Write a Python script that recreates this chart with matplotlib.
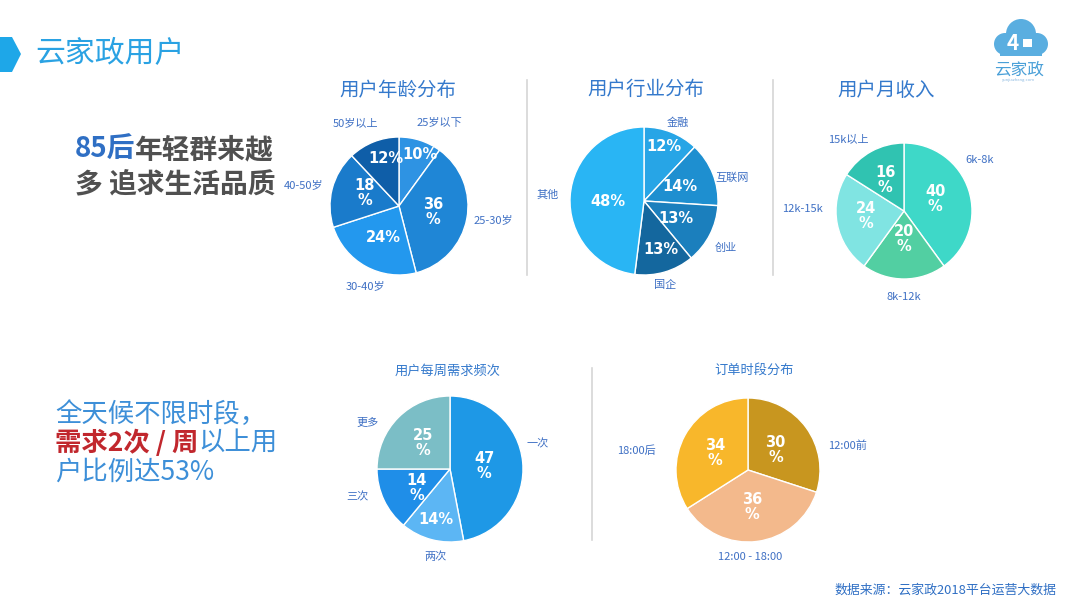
import matplotlib
matplotlib.use("Agg")
import matplotlib.pyplot as plt
from matplotlib.patches import Polygon, Circle, Rectangle
import numpy as np

plt.rcParams['font.family'] = ['Noto Sans CJK SC', 'DejaVu Sans']

# ---------------- data ----------------
age_labels = ["25岁以下", "25-30岁", "30-40岁", "40-50岁", "50岁以上"]
age_values = [10, 36, 24, 18, 12]

ind_labels = ["金融", "互联网", "创业", "国企", "其他"]
ind_values = [12, 14, 13, 13, 48]

inc_labels = ["6k-8k", "8k-12k", "12k-15k", "15k以上"]
inc_values = [40, 20, 24, 16]

freq_labels = ["一次", "两次", "三次", "更多"]
freq_values = [47, 14, 14, 25]

time_labels = ["12:00前", "12:00 - 18:00", "18:00后"]
time_values = [30, 36, 34]

W, H = 1080, 604


def Y(y):
    return H - y


fig = plt.figure(figsize=(10.8, 6.04), dpi=100)
ax = fig.add_axes([0, 0, 1, 1])
ax.set_axis_off()

LABEL_C = "#3f70c4"
TITLE_C = "#3479cc"


def draw_pie(values, labels, cx, cy, r, colors, stack, lab_d, lab_dt, pct_d, pct_dt,
             lab_fs=8, pct_fs=10.5):
    wedges, texts, autotexts = ax.pie(
        values, labels=labels, colors=colors, startangle=90, counterclock=False,
        center=(cx, Y(cy)), radius=r, autopct='%.0f%%',
        wedgeprops=dict(edgecolor='white', linewidth=1.0),
        textprops=dict(fontsize=lab_fs, color=LABEL_C))
    for i, (w, t, a) in enumerate(zip(wedges, texts, autotexts)):
        mid = (w.theta1 + w.theta2) / 2.0
        th = np.deg2rad(mid + lab_dt[i])
        t.set_position((cx + r * lab_d[i] * np.cos(th), Y(cy) + r * lab_d[i] * np.sin(th)))
        t.set_ha('center'); t.set_va('center')
        th2 = np.deg2rad(mid + pct_dt[i])
        a.set_position((cx + r * pct_d[i] * np.cos(th2), Y(cy) + r * pct_d[i] * np.sin(th2)))
        a.set_text(f"{values[i]}\n%" if stack[i] else f"{values[i]}%")
        a.set_color('white'); a.set_fontweight('bold'); a.set_fontsize(pct_fs)
        a.set_ha('center'); a.set_va('center')
        a.set_linespacing(1.0)
        a.set_fontfamily(['DejaVu Sans'])


# age
draw_pie(age_values, age_labels, 399, 206, 69,
         ["#2e93e3", "#1f86d6", "#2398ee", "#1a7bcb", "#0f5ea8"],
         [False, True, False, True, False],
         [1.34, 1.38, 1.26, 1.42, 1.35], [-8, 2, 6, 2, 6],
         [0.80, 0.50, 0.51, 0.53, 0.72], [-4, 0, 3, -6, -6])
# industry
draw_pie(ind_values, ind_labels, 644, 201, 74,
         ["#27a5e6", "#1e8fd0", "#1b7fbd", "#14679e", "#29b5f4"],
         [False] * 5,
         [1.15, 1.23, 1.27, 1.17, 1.31], [-2, -7, -3, -2, 0],
         [0.78, 0.52, 0.49, 0.70, 0.49], [1, 1, -1, 3, 4])
# income
draw_pie(inc_values, inc_labels, 904, 211, 68,
         ["#3ed8c8", "#52cfa2", "#80e4e2", "#30c3b1"],
         [True] * 4,
         [1.35, 1.26, 1.49, 1.34], [16, 0, -12, 9],
         [0.49, 0.41, 0.56, 0.53], [3, 0, -3, 3])
# weekly frequency
draw_pie(freq_values, freq_labels, 450, 469, 73,
         ["#1e98e6", "#5cb6f4", "#1f8ee8", "#7bbec6"],
         [True, False, True, True],
         [1.25, 1.22, 1.33, 1.29], [10, 5, -8, 16],
         [0.47, 0.72, 0.52, 0.51], [0, -1, 4, 1], lab_fs=8)
# order time
draw_pie(time_values, time_labels, 748, 470, 72,
         ["#c8961f", "#f3b98c", "#f8b72b"],
         [True] * 3,
         [1.42, 1.21, 1.57], [-22, -6, 19],
         [0.47, 0.51, 0.52], [0, -1, 1], lab_fs=8)

ax.set_xlim(0, W)
ax.set_ylim(0, H)
ax.set_aspect('auto')

# titles
ax.text(398, Y(90), "用户年龄分布", fontsize=14, color=TITLE_C, ha='center', va='center')
ax.text(646, Y(89), "用户行业分布", fontsize=14, color=TITLE_C, ha='center', va='center')
ax.text(886, Y(90), "用户月收入", fontsize=14, color=TITLE_C, ha='center', va='center')
ax.text(448, Y(371), "用户每周需求频次", fontsize=9.5, color=TITLE_C, ha='center', va='center')
ax.text(754, Y(370), "订单时段分布", fontsize=9.5, color=TITLE_C, ha='center', va='center')

# separators
ax.plot([527, 527], [Y(80), Y(275)], color="#d6d6d6", lw=1.2)
ax.plot([773, 773], [Y(80), Y(275)], color="#d6d6d6", lw=1.2)
ax.plot([592, 592], [Y(368), Y(540)], color="#d6d6d6", lw=1.2)

# header
ax.add_patch(Polygon([(0, Y(37)), (12, Y(37)), (21, Y(54)), (12, Y(72)), (0, Y(72))],
                     closed=True, color="#1ea7e8", lw=0))
ax.text(35, Y(54), "云家政用户", fontsize=21.5, color="#2aa2e3", ha='left', va='center')

# logo
lc = "#5aaee0"
for (x, y, rr) in [(1005, 44, 11), (1021, 34, 15), (1037, 44, 11)]:
    ax.add_patch(Circle((x, Y(y)), rr, color=lc, lw=0))
ax.add_patch(Rectangle((1000, Y(56)), 42, 12, color=lc, lw=0))
ax.text(1013, Y(43), "4", fontsize=15, color='white', ha='center', va='center', fontweight='bold')
ax.add_patch(Rectangle((1023, Y(47)), 9, 8, facecolor='white', lw=0))
ax.text(1019, Y(70), "云家政", fontsize=12, color="#4aa0d8", ha='center', va='center')
ax.text(1019, Y(80), "yunjiazheng.com", fontsize=3, color="#8ab8e0", ha='center', va='center')

# left text block 1
t1 = ax.text(75, Y(150), "85后", fontsize=20, color="#2f6fc4", fontweight='bold',
             ha='left', va='center')
ax.annotate("年轻群来越", xy=(1, 0.5), xycoords=t1, fontsize=20, color="#505050",
            fontweight='bold', ha='left', va='center')
ax.text(75, Y(185), "多 追求生活品质", fontsize=20, color="#505050", fontweight='bold',
        ha='left', va='center')

# left text block 2
BLUE2 = "#3d8fd8"
ax.text(55, Y(414), "全天候不限时段，", fontsize=19, color=BLUE2, ha='left', va='center')
t2 = ax.text(55, Y(443), "需求2次 / 周", fontsize=19, color="#c1272d", fontweight='bold',
             ha='left', va='center')
ax.annotate("以上用", xy=(1, 0.5), xycoords=t2, fontsize=19, color=BLUE2,
            ha='left', va='center')
ax.text(55, Y(472), "户比例达53%", fontsize=19, color=BLUE2, ha='left', va='center')

# source
ax.text(1056, Y(590), "数据来源：云家政2018平台运营大数据", fontsize=9.3, color="#2f6fc4",
        ha='right', va='center')

fig.savefig("out.png", dpi=100, facecolor='white')
